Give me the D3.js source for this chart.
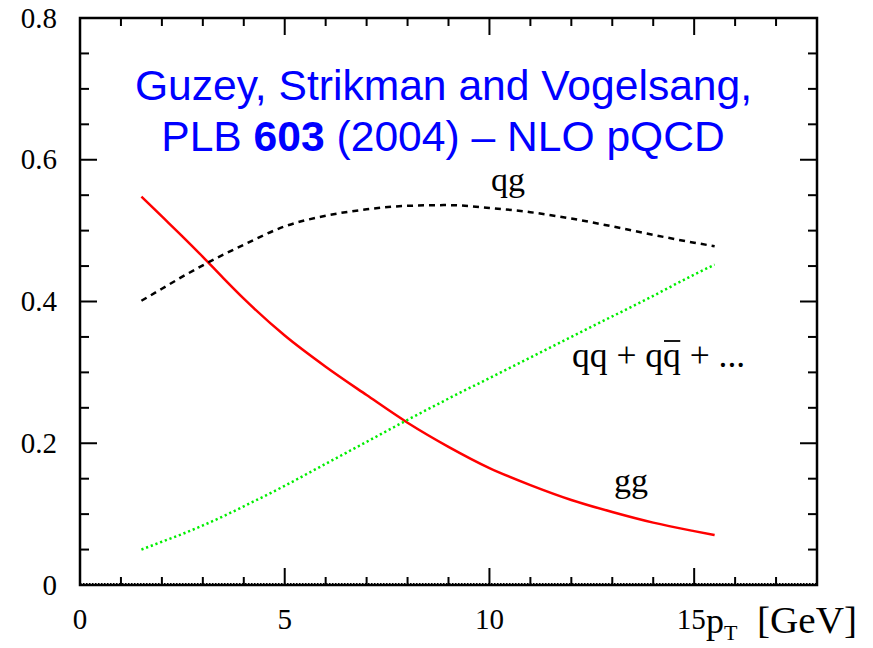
<!DOCTYPE html>
<html>
<head>
<meta charset="utf-8">
<script src="https://cdn.jsdelivr.net/npm/d3@7"></script>
<style>
  html, body { margin: 0; padding: 0; background: #fff; }
  svg { display: block; }
</style>
</head>
<body>
<svg id="chart" width="873" height="648"></svg>
<script>
// ---- data ----
const pT = [1.5, 2, 2.5, 3, 3.5, 4, 5, 6, 7, 8, 9, 10, 11, 12, 13, 14, 15, 15.5];
const gg = [0.548, 0.520, 0.492, 0.463, 0.433, 0.404, 0.352, 0.308, 0.268, 0.229, 0.195, 0.165, 0.141, 0.120, 0.103, 0.088, 0.076, 0.0705];
const qg = [0.401, 0.418, 0.435, 0.451, 0.466, 0.480, 0.506, 0.521, 0.530, 0.535, 0.536, 0.532, 0.526, 0.517, 0.506, 0.494, 0.483, 0.478];
const qq = [0.050, 0.061, 0.072, 0.084, 0.097, 0.111, 0.140, 0.171, 0.202, 0.233, 0.263, 0.292, 0.321, 0.350, 0.379, 0.408, 0.438, 0.452];
const xTickLabels = ["0", "5", "10", "15"];
const xTickValues = [0, 5, 10, 15];
const yTickLabels = ["0", "0.2", "0.4", "0.6", "0.8"];
const yTickValues = [0, 0.2, 0.4, 0.6, 0.8];
const titleLine1 = "Guzey, Strikman and Vogelsang,";
const titleLine2 = ["PLB ", "603", " (2004) \u2013 NLO pQCD"];

// ---- layout ----
const svg = d3.select("#chart");
const L = 80, R = 817, T = 18, B = 585;
const x = d3.scaleLinear().domain([0, 18]).range([L, R]);
const y = d3.scaleLinear().domain([0, 0.8]).range([B, T]);
const serif = "'Liberation Serif', 'Times New Roman', Times, serif";
const sans = "'Liberation Sans', Arial, Helvetica, sans-serif";

// dotted zero line just above the bottom axis
svg.append("line")
  .attr("x1", x(0)).attr("x2", x(18))
  .attr("y1", y(0) - 1.5).attr("y2", y(0) - 1.5)
  .attr("stroke", "#000").attr("stroke-width", 1)
  .attr("stroke-dasharray", "1.5,1.5");

// ticks
const xMinor = d3.range(0, 18.01, 1);
const yMinor = d3.range(0, 0.8001, 0.05);
const tickG = svg.append("g").attr("stroke", "#000").attr("stroke-width", 2);
xMinor.forEach(v => {
  const major = Math.abs(v % 5) < 1e-9;
  const len = major ? 17 : 8;
  tickG.append("line").attr("x1", x(v)).attr("x2", x(v)).attr("y1", B).attr("y2", B - len);
  tickG.append("line").attr("x1", x(v)).attr("x2", x(v)).attr("y1", T).attr("y2", T + len);
});
yMinor.forEach(v => {
  const major = Math.abs((v / 0.2) - Math.round(v / 0.2)) < 1e-6;
  const len = major ? 17 : 9;
  tickG.append("line").attr("x1", L).attr("x2", L + len).attr("y1", y(v)).attr("y2", y(v));
  tickG.append("line").attr("x1", R).attr("x2", R - len).attr("y1", y(v)).attr("y2", y(v));
});

// frame
svg.append("rect")
  .attr("x", L).attr("y", T).attr("width", R - L).attr("height", B - T)
  .attr("fill", "none").attr("stroke", "#000").attr("stroke-width", 2.5);

// tick labels
svg.append("g").selectAll("text").data(xTickValues).join("text")
  .attr("x", d => x(d) - (d === 15 ? 3 : 0)).attr("y", 629)
  .attr("text-anchor", "middle")
  .attr("font-family", serif).attr("font-size", 29)
  .text((d, i) => xTickLabels[i]);
svg.append("g").selectAll("text").data(yTickValues).join("text")
  .attr("x", 57).attr("y", d => y(d) + 9.5)
  .attr("text-anchor", "end")
  .attr("font-family", serif).attr("font-size", 29)
  .text((d, i) => yTickLabels[i]);

// x axis title
const xt = svg.append("text").attr("x", 706).attr("y", 633)
  .attr("font-family", serif).attr("font-size", 36);
xt.append("tspan").text("p");
xt.append("tspan").attr("font-size", 22).attr("dy", 7).text("T");
svg.append("text").attr("x", 757).attr("y", 633)
  .attr("font-family", serif).attr("font-size", 38)
  .attr("textLength", 100).attr("lengthAdjust", "spacingAndGlyphs")
  .text("[GeV]");

// curves
const line = d3.line().x(d => x(d[0])).y(d => y(d[1])).curve(d3.curveMonotoneX);
const series = [
  {vals: gg, color: "#ff0000", dash: null},
  {vals: qg, color: "#000000", dash: "6,5"},
  {vals: qq, color: "#00ee00", dash: "2.2,2.8"}
];
series.forEach(s => {
  svg.append("path")
    .datum(pT.map((p, i) => [p, s.vals[i]]))
    .attr("d", line)
    .attr("fill", "none")
    .attr("stroke", s.color)
    .attr("stroke-width", 2.5)
    .attr("stroke-dasharray", s.dash);
});

// curve labels
svg.append("text").attr("x", 508).attr("y", 191).attr("text-anchor", "middle")
  .attr("font-family", serif).attr("font-size", 34).text("qg");
svg.append("text").attr("x", 614).attr("y", 492)
  .attr("font-family", serif).attr("font-size", 34).text("gg");
const qt = svg.append("text").attr("x", 572).attr("y", 367)
  .attr("font-family", serif).attr("font-size", 35.5)
  .text("qq + qq + ...");
// overline over the 7th char (second q of "qq")
const ext = qt.node().getExtentOfChar(6);
svg.append("line")
  .attr("x1", ext.x + 1).attr("x2", ext.x + ext.width - 0.5)
  .attr("y1", 341).attr("y2", 341)
  .attr("stroke", "#000").attr("stroke-width", 1.8);

// title
const title = svg.append("g").attr("fill", "#0000ff")
  .attr("font-family", sans).attr("font-size", 42.6).attr("text-anchor", "middle");
title.append("text").attr("x", 443.5).attr("y", 100).text(titleLine1);
const t2 = title.append("text").attr("x", 443).attr("y", 151);
t2.append("tspan").text(titleLine2[0]);
t2.append("tspan").attr("font-weight", "bold").text(titleLine2[1]);
t2.append("tspan").text(titleLine2[2]);
</script>
</body>
</html>
